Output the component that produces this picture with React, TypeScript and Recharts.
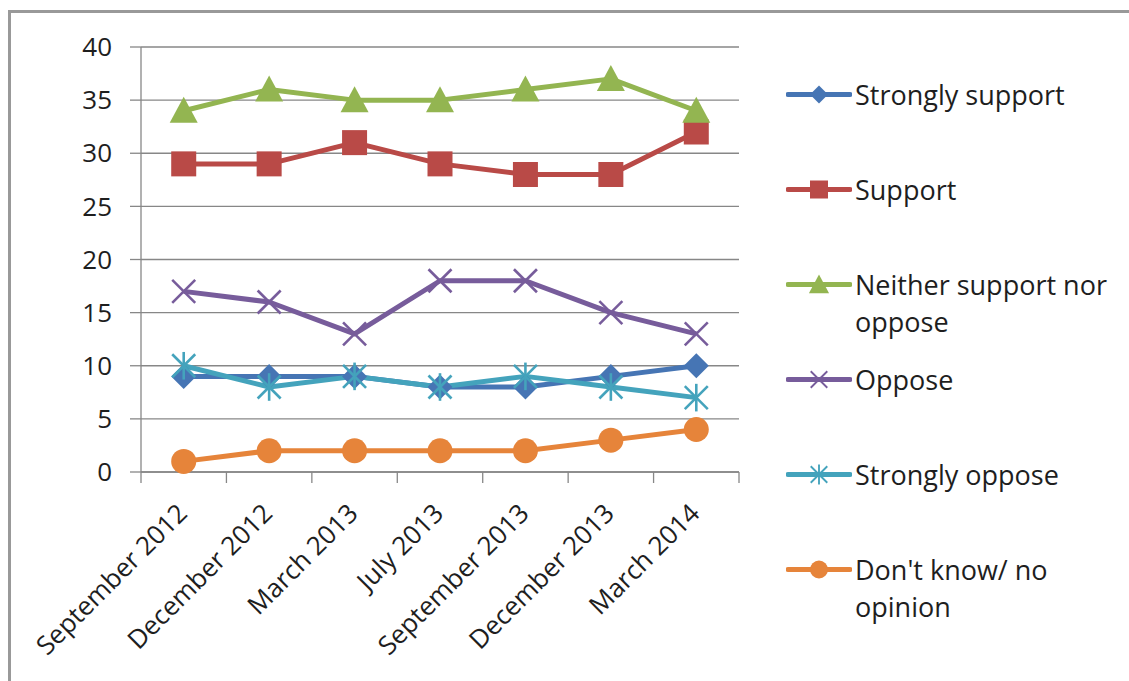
import { LineChart, Line, XAxis, YAxis, CartesianGrid } from 'recharts';

const periods = [
  'September 2012',
  'December 2012',
  'March 2013',
  'July 2013',
  'September 2013',
  'December 2013',
  'March 2014',
];

const stronglySupport = [9, 9, 9, 8, 8, 9, 10];
const support = [29, 29, 31, 29, 28, 28, 32];
const neither = [34, 36, 35, 35, 36, 37, 34];
const oppose = [17, 16, 13, 18, 18, 15, 13];
const stronglyOppose = [10, 8, 9, 8, 9, 8, 7];
const dontKnow = [1, 2, 2, 2, 2, 3, 4];

const yTicks = [0, 5, 10, 15, 20, 25, 30, 35, 40];

type MarkerKind = 'diamond' | 'square' | 'triangle' | 'x' | 'star' | 'circle';

const series: { key: string; name: string; color: string; marker: MarkerKind; values: number[] }[] = [
  { key: 'ss', name: 'Strongly support', color: '#4675B4', marker: 'diamond', values: stronglySupport },
  { key: 's', name: 'Support', color: '#B94A47', marker: 'square', values: support },
  { key: 'n', name: 'Neither support nor oppose', color: '#93B551', marker: 'triangle', values: neither },
  { key: 'o', name: 'Oppose', color: '#775C9B', marker: 'x', values: oppose },
  { key: 'so', name: 'Strongly oppose', color: '#44A3BC', marker: 'star', values: stronglyOppose },
  { key: 'dk', name: "Don't know/ no opinion", color: '#E6843A', marker: 'circle', values: dontKnow },
];

const data = periods.map((period, i) => {
  const row: Record<string, string | number> = { period };
  series.forEach((s) => {
    row[s.key] = s.values[i];
  });
  return row;
});

const FONT = '"Open Sans", sans-serif';
const TEXT = '#1e1e1e';
const GRID = '#878787';
const PLOT_W = 598;

function Marker({ kind, cx, cy, color, scale = 1 }: { kind: MarkerKind; cx: number; cy: number; color: string; scale?: number }) {
  const k = scale;
  switch (kind) {
    case 'diamond': {
      const r = 12.5 * k;
      return <polygon points={`${cx},${cy - r} ${cx + r},${cy} ${cx},${cy + r} ${cx - r},${cy}`} fill={color} />;
    }
    case 'square': {
      const r = 12.5 * k;
      return <rect x={cx - r} y={cy - r} width={2 * r} height={2 * r} fill={color} />;
    }
    case 'triangle': {
      const r = 14 * k;
      return (
        <polygon
          points={`${cx},${cy - 14 * k} ${cx + r},${cy + 12 * k} ${cx - r},${cy + 12 * k}`}
          fill={color}
        />
      );
    }
    case 'x': {
      const r = 11.5 * k;
      return (
        <g stroke={color} strokeWidth={2.6 * k}>
          <line x1={cx - r} y1={cy - r} x2={cx + r} y2={cy + r} />
          <line x1={cx - r} y1={cy + r} x2={cx + r} y2={cy - r} />
        </g>
      );
    }
    case 'star': {
      const r = 11.5 * k;
      return (
        <g stroke={color} strokeWidth={2.6 * k}>
          <line x1={cx - r} y1={cy - r} x2={cx + r} y2={cy + r} />
          <line x1={cx - r} y1={cy + r} x2={cx + r} y2={cy - r} />
          <line x1={cx} y1={cy - r * 1.2} x2={cx} y2={cy + r * 1.2} />
        </g>
      );
    }
    default:
      return <circle cx={cx} cy={cy} r={12.5 * k} fill={color} />;
  }
}

const makeDot = (kind: MarkerKind, color: string, key: string) => (props: any) => {
  const { cx, cy, index } = props;
  return (
    <g key={`${key}-${index}`}>
      <Marker kind={kind} cx={cx} cy={cy} color={color} />
    </g>
  );
};

// rotated category label plus the tick marks on the category boundaries
const PeriodTick = (props: any) => {
  const { x, y, payload, index } = props;
  const half = PLOT_W / periods.length / 2;
  const tx = x + 5;
  const ty = y + 43;
  return (
    <g>
      <line x1={x - half} y1={y} x2={x - half} y2={y + 11} stroke={GRID} strokeWidth={1.3} />
      {index === periods.length - 1 && (
        <line x1={x + half} y1={y} x2={x + half} y2={y + 11} stroke={GRID} strokeWidth={1.3} />
      )}
      <text
        x={tx}
        y={ty}
        textAnchor="end"
        fill={TEXT}
        fontSize={26}
        fontFamily={FONT}
        transform={`rotate(-45 ${tx} ${ty})`}
      >
        {payload.value}
      </text>
    </g>
  );
};

function SeriesLegend() {
  return (
    <div style={{ position: 'absolute', left: 786, top: 76, fontFamily: FONT, fontSize: 27, color: TEXT }}>
      {series.map((s) => (
        <div key={s.key} style={{ display: 'flex', alignItems: 'flex-start', height: 95 }}>
          <svg width={66} height={37} style={{ flex: 'none' }}>
            <line x1={2} y1={18.5} x2={64} y2={18.5} stroke={s.color} strokeWidth={5} strokeLinecap="round" />
            <Marker kind={s.marker} cx={33} cy={18.5} color={s.color} scale={0.72} />
          </svg>
          <div style={{ width: 268, lineHeight: '37px', marginLeft: 3 }}>{s.name}</div>
        </div>
      ))}
    </div>
  );
}

export default function App() {
  return (
    <div
      style={{
        position: 'absolute',
        left: 0,
        top: 0,
        width: 1129,
        height: 681,
        overflow: 'hidden',
        background: '#fff',
      }}
    >
      <div
        style={{
          position: 'absolute',
          left: 8,
          top: 10,
          width: 1200,
          height: 800,
          border: '3px solid #999',
        }}
      />
      <div style={{ position: 'absolute', left: 0, top: 0 }}>
        <LineChart
          width={1129}
          height={681}
          data={data}
          margin={{ top: 47, right: 390, bottom: 0, left: 0 }}
        >
          <CartesianGrid vertical={false} stroke={GRID} strokeWidth={1.3} />
          <XAxis
            dataKey="period"
            height={209}
            padding={{ left: PLOT_W / 14, right: PLOT_W / 14 }}
            axisLine={{ stroke: GRID, strokeWidth: 1.3 }}
            tickLine={false}
            tickSize={0}
            tickMargin={0}
            interval={0}
            tick={<PeriodTick />}
          />
          <YAxis
            width={141}
            domain={[0, 40]}
            ticks={yTicks}
            interval={0}
            tickSize={11}
            tickMargin={18}
            axisLine={{ stroke: GRID, strokeWidth: 1.3 }}
            tickLine={{ stroke: GRID, strokeWidth: 1.3 }}
            tick={{ fill: TEXT, fontSize: 26, fontFamily: FONT }}
          />
          {series.map((s) => (
            <Line
              key={s.key}
              dataKey={s.key}
              name={s.name}
              stroke={s.color}
              strokeWidth={5}
              strokeLinejoin="round"
              dot={makeDot(s.marker, s.color, s.key)}
              activeDot={false}
              isAnimationActive={false}
            />
          ))}
        </LineChart>
      </div>
      <SeriesLegend />
    </div>
  );
}
